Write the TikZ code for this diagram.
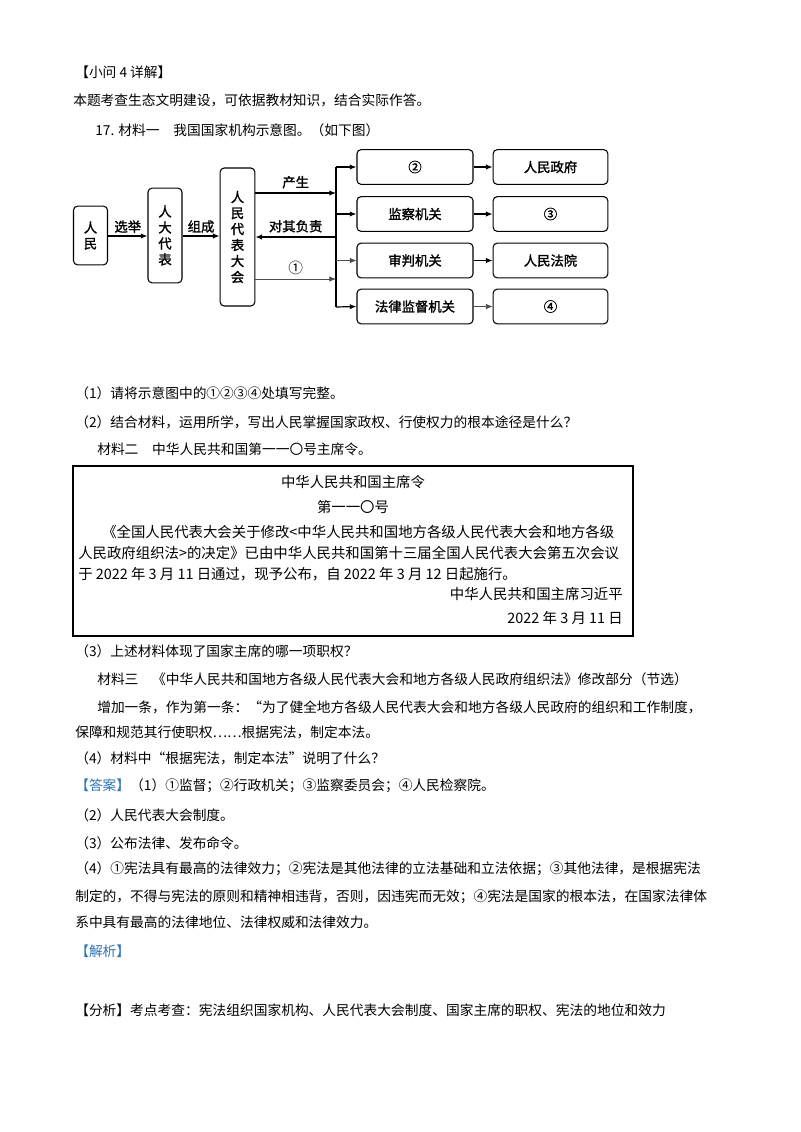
\documentclass[tikz,border=0pt]{standalone}
\usepackage{fontspec}
\setmainfont{Noto Sans CJK SC}
\newfontfamily\cjkb{Noto Sans CJK SC}[FakeBold=1.6]
\usetikzlibrary{arrows.meta}
\definecolor{ansblue}{HTML}{2E75B6}
\begin{document}
\begin{tikzpicture}[x=0.75pt,y=-0.75pt,
  ln/.style={anchor=west,inner sep=0pt,font=\fontsize{10.3pt}{12pt}\selectfont},
  bx/.style={draw,rounded corners=3pt,line width=0.8pt,inner sep=0pt,font=\cjkb\fontsize{10pt}{12pt}\selectfont},
  lab/.style={inner sep=0pt,font=\cjkb\fontsize{10pt}{12pt}\selectfont},
  ar/.style={-{Latex[length=5pt,width=4pt]},line width=0.9pt},
  arl/.style={-{Latex[length=5pt,width=4pt]},line width=0.5pt,draw=black!70},
  bt/.style={inner sep=0pt,font=\fontsize{10.8pt}{12pt}\selectfont}]
\useasboundingbox[fill=white] (0,0) rectangle (800,1132);
% header text
\node[ln] (t1) at (75,72) {【小问 4 详解】};
\node[ln] (t2) at (73,100) {本题考查生态文明建设，可依据教材知识，结合实际作答。};
\node[ln] (t3) at (95,130) {17. 材料一\quad 我国国家机构示意图。（如下图）};
% diagram
\node[bx,text width=12pt,align=center,minimum width=25.5pt,minimum height=44pt] (rm) at (90.5,235.5) {人\\民};
\node[bx,text width=12pt,align=center,minimum width=25.5pt,minimum height=71pt] (rd) at (165,235.5) {人\\大\\代\\表};
\node[bx,text width=12pt,align=center,minimum width=26pt,minimum height=103.5pt] (rh) at (237.5,237) {人\\民\\代\\表\\大\\会};
\foreach \n/\y/\a/\b in {1/167/{②}/{人民政府},2/214/{监察机关}/{③},3/260.5/{审判机关}/{人民法院},4/306.5/{法律监督机关}/{④}}{
  \node[bx,minimum width=87pt,minimum height=26pt] (m\n) at (415,\y) {\a};
  \node[bx,minimum width=86pt,minimum height=26pt] (r\n) at (550.5,\y) {\b};
}
\coordinate (vt) at (336,167);
\coordinate (vb) at (336,307);
\draw[line width=0.9pt] (vt) -- (vb);
\draw[ar] (vt) -- (m1.west);
\draw[ar] (336,214) -- (m2.west);
\draw[arl] (336,260.5) -- (m3.west);
\draw[ar] (vb) -- (m4.west);
\draw[ar] (m1) -- (r1);
\draw[ar] (m2) -- (r2);
\draw[ar] (m3) -- (r3);
\draw[arl] (m4) -- (r4);
\coordinate (p1) at (336,193);
\coordinate (p2) at (336,237);
\coordinate (p3) at (336,279);
\draw[ar] (rh.east |- p1) -- (p1) node[lab,midway,above=3pt] {产生};
\draw[ar] (p2) -- (rh.east |- p2) node[lab,midway,above=3pt] {对其负责};
\draw[arl] (rh.east |- p3) -- (p3) node[inner sep=0pt,midway,above=3pt,font=\fontsize{11pt}{12pt}\selectfont] {①};
\draw[ar] (rm.east |- 0,236) -- (rd.west |- 0,236) node[lab,midway,above=2pt] {选举};
\draw[ar] (rd.east |- 0,236) -- (rh.west |- 0,236) node[lab,midway,above=2pt] {组成};
% questions
\node[ln] (q1) at (75,393) {（1）请将示意图中的①②③④处填写完整。};
\node[ln] (q2) at (75,422) {（2）结合材料，运用所学，写出人民掌握国家政权、行使权力的根本途径是什么？};
\node[ln] (m2t) at (97,449) {材料二\quad 中华人民共和国第一一〇号主席令。};
% boxed decree
\node[draw,line width=0.9pt,minimum width=420pt,minimum height=127.5pt,inner sep=0pt] (dec) at (353,551) {};
\node[bt] (d1) at (353,482) {中华人民共和国主席令};
\node[bt] (d2) at (353,507) {第一一〇号};
\node[bt,anchor=west] (d3) at (102,532) {《全国人民代表大会关于修改<中华人民共和国地方各级人民代表大会和地方各级};
\node[bt,anchor=west] (d4) at (78,553) {人民政府组织法>的决定》已由中华人民共和国第十三届全国人民代表大会第五次会议};
\node[bt,anchor=west] (d5) at (78,574) {于 2022 年 3 月 11 日通过，现予公布，自 2022 年 3 月 12 日起施行。};
\node[bt,anchor=east] (d6) at (623,594) {中华人民共和国主席习近平};
\node[bt,anchor=east] (d7) at (623,618) {2022 年 3 月 11 日};
% more questions
\node[ln] (q3) at (75,651) {（3）上述材料体现了国家主席的哪一项职权？};
\node[ln] (m3t) at (97,679) {材料三\quad 《中华人民共和国地方各级人民代表大会和地方各级人民政府组织法》修改部分（节选）};
\node[ln] (m3a) at (97,707) {增加一条，作为第一条：“为了健全地方各级人民代表大会和地方各级人民政府的组织和工作制度，};
\node[ln] (m3b) at (75,732) {保障和规范其行使职权……根据宪法，制定本法。};
\node[ln] (q4) at (75,758) {（4）材料中“根据宪法，制定本法”说明了什么？};
\node[ln] (a1) at (75,786) {\textcolor{ansblue}{【答案】}（1）①监督；②行政机关；③监察委员会；④人民检察院。};
\node[ln] (a2) at (75,815) {（2）人民代表大会制度。};
\node[ln] (a3) at (75,843) {（3）公布法律、发布命令。};
\node[ln] (a4) at (75,869) {（4）①宪法具有最高的法律效力；②宪法是其他法律的立法基础和立法依据；③其他法律，是根据宪法};
\node[ln] (a5) at (75,897) {制定的，不得与宪法的原则和精神相违背，否则，因违宪而无效；④宪法是国家的根本法，在国家法律体};
\node[ln] (a6) at (75,922) {系中具有最高的法律地位、法律权威和法律效力。};
\node[ln,text=ansblue] (jx) at (75,951) {【解析】};
\node[ln] (fx) at (75,1010) {【分析】考点考查：宪法组织国家机构、人民代表大会制度、国家主席的职权、宪法的地位和效力};
\end{tikzpicture}
\end{document}
